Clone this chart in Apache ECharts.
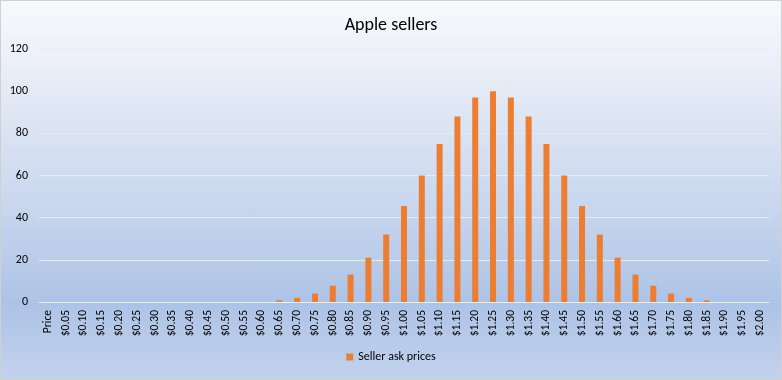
<!DOCTYPE html>
<html><head><meta charset="utf-8">
<script src="https://cdn.jsdelivr.net/npm/echarts@6/dist/echarts.min.js"></script>
<style>
html,body{margin:0;padding:0;}
#c{width:782px;height:380px;box-sizing:border-box;border:1px solid #d0d0d0;
background:linear-gradient(to bottom,#f8f9fd 0%,#e3e9f5 25%,#c8d6ee 55%,#adc3e6 80%,#c3d2ed 100%);}
</style></head>
<body><div id="c"></div>
<script>
var categories = ["Price","$0.05","$0.10","$0.15","$0.20","$0.25","$0.30","$0.35","$0.40","$0.45","$0.50","$0.55","$0.60","$0.65","$0.70","$0.75","$0.80","$0.85","$0.90","$0.95","$1.00","$1.05","$1.10","$1.15","$1.20","$1.25","$1.30","$1.35","$1.40","$1.45","$1.50","$1.55","$1.60","$1.65","$1.70","$1.75","$1.80","$1.85","$1.90","$1.95","$2.00"];
var sellerAsk = [0,0,0,0,0,0,0,0,0,0,0,0,0,0.8,2,4,7.7,13,21,32,45.5,60,75,88,97,100,97,88,75,60,45.5,32,21,13,7.7,4,2,0.8,0,0,0];
var yTicks = {min:0,max:120,interval:20};
var chart = echarts.init(document.getElementById('c'),null,{renderer:'canvas'});
var font = 'Calibri, Carlito, "Open Sans", sans-serif';
chart.setOption({
  animation:false,
  title:{text:'Apple sellers',left:'center',top:10,textStyle:{fontFamily:font,fontSize:18,fontWeight:'normal',color:'#000'}},
  legend:{bottom:11,left:'center',itemWidth:7,itemHeight:7,icon:'rect',itemGap:4,
    textStyle:{fontFamily:font,fontSize:12,color:'#000'}},
  grid:{left:38,right:12,top:48,bottom:77},
  xAxis:{type:'category',data:categories,
    axisLine:{lineStyle:{color:'#e8eef8'}},axisTick:{show:false},
    axisLabel:{rotate:90,interval:0,fontFamily:font,fontSize:11.5,color:'#000',margin:8}},
  yAxis:{type:'value',min:yTicks.min,max:yTicks.max,interval:yTicks.interval,
    axisLine:{show:false},axisTick:{show:false},
    splitLine:{lineStyle:{color:'#e6ebf5',width:1}},
    axisLabel:{fontFamily:font,fontSize:12,color:'#000',margin:11}},
  series:[{name:'Seller ask prices',type:'bar',data:sellerAsk,barWidth:6,itemStyle:{color:'#ed7d31'}}]
});
</script></body></html>
